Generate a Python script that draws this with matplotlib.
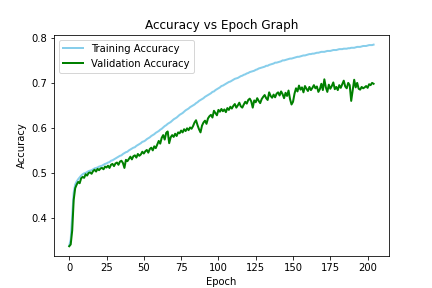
import numpy as np
import matplotlib
matplotlib.use("Agg")
import matplotlib.pyplot as plt

# accuracy per epoch
train_acc = [
    0.338, 0.352, 0.405, 0.456, 0.474, 0.481, 0.486, 0.490, 0.494, 0.497,
    0.499, 0.500, 0.502, 0.504, 0.505, 0.506, 0.508, 0.510, 0.511, 0.512,
    0.514, 0.515, 0.516, 0.518, 0.520, 0.521, 0.523, 0.524, 0.527, 0.528,
    0.530, 0.532, 0.534, 0.536, 0.538, 0.539, 0.542, 0.544, 0.546, 0.547,
    0.550, 0.552, 0.554, 0.556, 0.557, 0.560, 0.562, 0.564, 0.566, 0.569,
    0.570, 0.572, 0.575, 0.577, 0.579, 0.582, 0.584, 0.586, 0.589, 0.591,
    0.593, 0.596, 0.598, 0.601, 0.604, 0.606, 0.609, 0.611, 0.613, 0.616,
    0.619, 0.621, 0.623, 0.626, 0.629, 0.631, 0.633, 0.636, 0.639, 0.641,
    0.643, 0.646, 0.648, 0.650, 0.652, 0.655, 0.657, 0.660, 0.662, 0.664,
    0.666, 0.669, 0.671, 0.673, 0.675, 0.677, 0.680, 0.681, 0.684, 0.686,
    0.688, 0.690, 0.693, 0.694, 0.696, 0.698, 0.700, 0.702, 0.703, 0.705,
    0.707, 0.709, 0.710, 0.711, 0.713, 0.715, 0.716, 0.718, 0.719, 0.721,
    0.722, 0.724, 0.725, 0.726, 0.727, 0.729, 0.730, 0.732, 0.733, 0.734,
    0.735, 0.736, 0.738, 0.738, 0.740, 0.741, 0.742, 0.743, 0.745, 0.745,
    0.746, 0.747, 0.748, 0.750, 0.750, 0.751, 0.752, 0.753, 0.754, 0.754,
    0.755, 0.756, 0.757, 0.758, 0.758, 0.759, 0.760, 0.761, 0.761, 0.762,
    0.763, 0.764, 0.764, 0.765, 0.765, 0.766, 0.767, 0.767, 0.768, 0.769,
    0.769, 0.769, 0.770, 0.771, 0.771, 0.771, 0.772, 0.773, 0.773, 0.773,
    0.774, 0.775, 0.775, 0.775, 0.776, 0.776, 0.776, 0.777, 0.777, 0.778,
    0.778, 0.778, 0.779, 0.780, 0.780, 0.780, 0.781, 0.782, 0.782, 0.782,
    0.783, 0.784, 0.784, 0.784, 0.785,
]

val_acc = [
    0.337, 0.341, 0.372, 0.440, 0.466, 0.474, 0.480, 0.477, 0.488, 0.491,
    0.489, 0.497, 0.494, 0.500, 0.501, 0.498, 0.504, 0.507, 0.503, 0.509,
    0.506, 0.510, 0.511, 0.508, 0.514, 0.512, 0.516, 0.511, 0.518, 0.520,
    0.515, 0.521, 0.523, 0.518, 0.525, 0.527, 0.522, 0.511, 0.529, 0.526,
    0.531, 0.536, 0.530, 0.537, 0.539, 0.534, 0.542, 0.538, 0.541, 0.547,
    0.543, 0.548, 0.551, 0.545, 0.553, 0.556, 0.550, 0.559, 0.555, 0.563,
    0.571, 0.565, 0.578, 0.584, 0.574, 0.589, 0.592, 0.566, 0.579, 0.584,
    0.580, 0.587, 0.582, 0.590, 0.588, 0.594, 0.590, 0.597, 0.593, 0.599,
    0.595, 0.601, 0.598, 0.604, 0.612, 0.617, 0.606, 0.597, 0.590, 0.605,
    0.612, 0.616, 0.609, 0.621, 0.626, 0.629, 0.623, 0.638, 0.633, 0.628,
    0.640, 0.636, 0.642, 0.637, 0.641, 0.635, 0.644, 0.640, 0.647, 0.643,
    0.649, 0.653, 0.645, 0.650, 0.656, 0.648, 0.645, 0.652, 0.658, 0.654,
    0.662, 0.665, 0.659, 0.645, 0.661, 0.657, 0.666, 0.660, 0.655, 0.664,
    0.669, 0.673, 0.666, 0.662, 0.679, 0.671, 0.667, 0.674, 0.668, 0.676,
    0.679, 0.672, 0.681, 0.675, 0.666, 0.678, 0.671, 0.683, 0.664, 0.652,
    0.658, 0.676, 0.688, 0.681, 0.694, 0.685, 0.690, 0.679, 0.693, 0.687,
    0.682, 0.691, 0.684, 0.689, 0.695, 0.688, 0.692, 0.680, 0.686, 0.698,
    0.684, 0.708, 0.690, 0.680, 0.696, 0.687, 0.693, 0.701, 0.686, 0.691,
    0.684, 0.695, 0.689, 0.697, 0.705, 0.692, 0.688, 0.700, 0.695, 0.660,
    0.684, 0.707, 0.690, 0.700, 0.687, 0.685, 0.691, 0.688, 0.690, 0.693,
    0.689, 0.697, 0.695, 0.700, 0.698,
]

epochs = np.arange(len(train_acc))

fig, ax = plt.subplots(figsize=(6, 4), dpi=72)
ax.plot(epochs, train_acc, color='skyblue', linewidth=2, label='Training Accuracy')
ax.plot(epochs, val_acc, color='green', linewidth=2, label='Validation Accuracy')
ax.set_title('Accuracy vs Epoch Graph')
ax.set_xlabel('Epoch')
ax.set_ylabel('Accuracy')
ax.legend(loc='upper left')
fig.savefig('out.png')
